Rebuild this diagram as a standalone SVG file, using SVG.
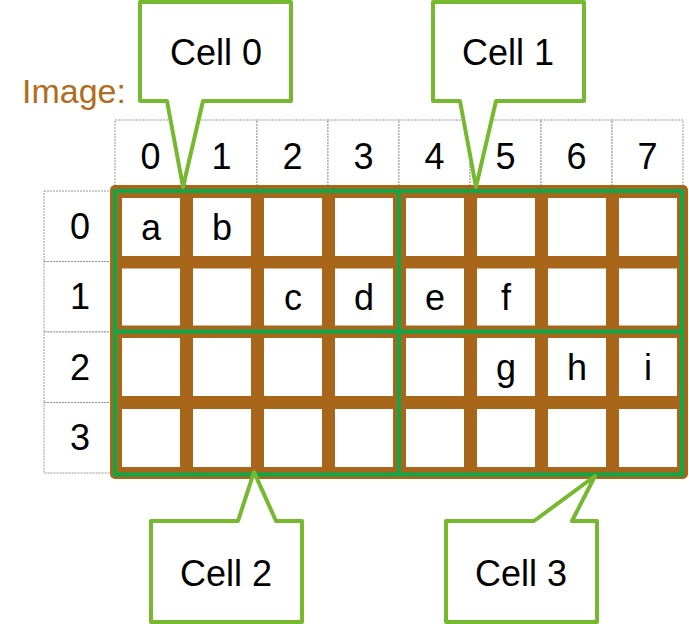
<svg xmlns="http://www.w3.org/2000/svg" width="689" height="624" viewBox="0 0 689 624">
<style>
text{font-family:"Liberation Sans",Arial,sans-serif;font-size:36px;fill:#000;text-anchor:middle}
.lbl{font-size:34px;fill:#B06C20;text-anchor:start}
.tbl{fill:#fff;stroke:#9a9a9a;stroke-width:1;stroke-dasharray:2,1}
.cell{fill:#fff}
.call{fill:#fff;stroke:#76B82E;stroke-width:4;stroke-linejoin:round}
.grn{fill:none;stroke:#0EA84A;stroke-width:4}
</style>
<rect width="689" height="624" fill="#fff"/>
<text class="lbl" x="22" y="103">Image:</text>
<g id="header">
<rect class="tbl" x="115" y="120" width="71" height="70"/>
<rect class="tbl" x="186" y="120" width="71" height="70"/>
<rect class="tbl" x="257" y="120" width="71" height="70"/>
<rect class="tbl" x="328" y="120" width="71" height="70"/>
<rect class="tbl" x="399" y="120" width="71" height="70"/>
<rect class="tbl" x="470" y="120" width="71" height="70"/>
<rect class="tbl" x="541" y="120" width="71" height="70"/>
<rect class="tbl" x="612" y="120" width="71" height="70"/>
<text x="150.5" y="169">0</text>
<text x="221.5" y="169">1</text>
<text x="292.5" y="169">2</text>
<text x="363.5" y="169">3</text>
<text x="434.5" y="169">4</text>
<text x="505.5" y="169">5</text>
<text x="576.5" y="169">6</text>
<text x="647.5" y="169">7</text>
</g>
<g id="rowlabels">
<rect class="tbl" x="44" y="191" width="80" height="70.5"/>
<rect class="tbl" x="44" y="261.5" width="80" height="70.5"/>
<rect class="tbl" x="44" y="332" width="80" height="70.5"/>
<rect class="tbl" x="44" y="402.5" width="80" height="70.5"/>
<text x="80" y="239">0</text>
<text x="80" y="309">1</text>
<text x="80" y="380">2</text>
<text x="80" y="450">3</text>
</g>
<g id="grid">
<rect x="110" y="185" width="578" height="294" rx="5" fill="#A8661A"/>
<g class="cell">
<rect x="122" y="198" width="58" height="58"/><rect x="193" y="198" width="58" height="58"/><rect x="264" y="198" width="58" height="58"/><rect x="335" y="198" width="58" height="58"/><rect x="406" y="198" width="58" height="58"/><rect x="477" y="198" width="58" height="58"/><rect x="548" y="198" width="58" height="58"/><rect x="619" y="198" width="58" height="58"/>
<rect x="122" y="268.5" width="58" height="57"/><rect x="193" y="268.5" width="58" height="57"/><rect x="264" y="268.5" width="58" height="57"/><rect x="335" y="268.5" width="58" height="57"/><rect x="406" y="268.5" width="58" height="57"/><rect x="477" y="268.5" width="58" height="57"/><rect x="548" y="268.5" width="58" height="57"/><rect x="619" y="268.5" width="58" height="57"/>
<rect x="122" y="338" width="58" height="58"/><rect x="193" y="338" width="58" height="58"/><rect x="264" y="338" width="58" height="58"/><rect x="335" y="338" width="58" height="58"/><rect x="406" y="338" width="58" height="58"/><rect x="477" y="338" width="58" height="58"/><rect x="548" y="338" width="58" height="58"/><rect x="619" y="338" width="58" height="58"/>
<rect x="122" y="409" width="58" height="58"/><rect x="193" y="409" width="58" height="58"/><rect x="264" y="409" width="58" height="58"/><rect x="335" y="409" width="58" height="58"/><rect x="406" y="409" width="58" height="58"/><rect x="477" y="409" width="58" height="58"/><rect x="548" y="409" width="58" height="58"/><rect x="619" y="409" width="58" height="58"/>
</g>
<text x="151" y="240">a</text>
<text x="222" y="240">b</text>
<text x="293" y="310">c</text>
<text x="364" y="310">d</text>
<text x="435" y="310">e</text>
<text x="506" y="310">f</text>
<text x="506" y="380">g</text>
<text x="577" y="380">h</text>
<text x="648" y="380">i</text>
</g>
<g id="cells-outline">
<rect class="grn" x="115" y="191" width="567" height="283.5"/>
<line class="grn" x1="399" y1="191" x2="399" y2="474.5"/>
<line class="grn" x1="115" y1="331.5" x2="682" y2="331.5"/>
</g>
<g id="connectors"></g>
<g id="cell0">
<path class="call" d="M140,2 H291 V101 H203 L183,187 L167,101 H140 Z"/>
<text x="216" y="65">Cell 0</text>
</g>
<g id="cell1">
<path class="call" d="M433,2 H584 V101 H496 L476,187 L460,101 H433 Z"/>
<text x="508" y="65">Cell 1</text>
</g>
<g id="cell2">
<path class="call" d="M151,521 H238 L254,472 L276,521 H302 V622 H151 Z"/>
<text x="226" y="586">Cell 2</text>
</g>
<g id="cell3">
<path class="call" d="M446,521 H534 L595,476 L572,521 H597 V622 H446 Z"/>
<text x="521" y="586">Cell 3</text>
</g>
</svg>
